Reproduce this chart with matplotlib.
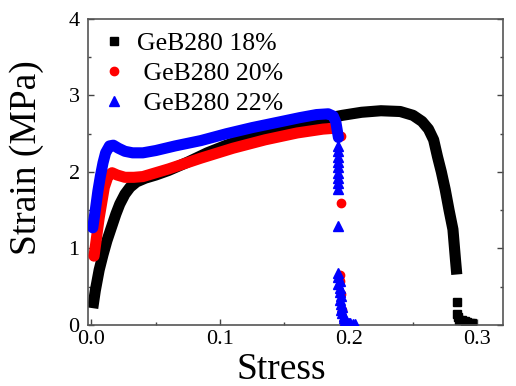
import matplotlib
matplotlib.use("Agg")
import matplotlib.pyplot as plt
from matplotlib.ticker import MultipleLocator

plt.rcParams['font.family'] = ['Liberation Serif', 'DejaVu Serif']

# GeB280 18% (black squares)
x18 = [0.001, 0.003, 0.006, 0.009, 0.012, 0.016, 0.019, 0.022, 0.026, 0.030, 0.035,
       0.042, 0.050, 0.060, 0.075, 0.090, 0.105, 0.120, 0.135, 0.150, 0.165, 0.180,
       0.195, 0.210, 0.225, 0.240, 0.250, 0.257, 0.262, 0.266, 0.269, 0.272, 0.275,
       0.278, 0.281, 0.283, 0.284]
y18 = [0.22, 0.45, 0.72, 0.92, 1.10, 1.30, 1.45, 1.58, 1.71, 1.80, 1.87,
       1.92, 1.96, 2.02, 2.13, 2.25, 2.35, 2.44, 2.52, 2.58, 2.64, 2.69,
       2.74, 2.78, 2.80, 2.79, 2.74, 2.66, 2.56, 2.42, 2.20, 2.00, 1.77,
       1.50, 1.25, 0.85, 0.66]
x18_tail = [0.284, 0.284, 0.285, 0.286, 0.288, 0.290, 0.292, 0.294, 0.296]
y18_tail = [0.30, 0.14, 0.10, 0.07, 0.06, 0.05, 0.04, 0.03, 0.02]

# GeB280 20% (red circles)
x20 = [0.002, 0.004, 0.006, 0.008, 0.010, 0.013, 0.016, 0.020, 0.026, 0.033,
       0.040, 0.060, 0.085, 0.110, 0.135, 0.160, 0.180, 0.188]
y20 = [0.90, 1.15, 1.40, 1.60, 1.80, 1.95, 1.99, 1.96, 1.93, 1.93,
       1.94, 2.04, 2.18, 2.31, 2.42, 2.51, 2.56, 2.57]
x20_tail = [0.194, 0.194, 0.193, 0.193, 0.194, 0.195, 0.196]
y20_tail = [2.47, 1.59, 0.65, 0.58, 0.40, 0.20, 0.05]

# GeB280 22% (blue triangles)
x22 = [0.001, 0.003, 0.005, 0.007, 0.009, 0.011, 0.014, 0.017, 0.021, 0.026,
       0.032, 0.040, 0.050, 0.065, 0.085, 0.105, 0.125, 0.145, 0.162, 0.175,
       0.184, 0.188, 0.190, 0.191, 0.192]
y22 = [1.27, 1.50, 1.75, 1.95, 2.12, 2.25, 2.34, 2.35, 2.31, 2.27,
       2.25, 2.25, 2.28, 2.34, 2.41, 2.50, 2.58, 2.65, 2.71, 2.75,
       2.76, 2.73, 2.65, 2.55, 2.45]
x22_tail = [0.192, 0.192, 0.192, 0.192, 0.192, 0.192, 0.192, 0.192, 0.192, 0.192,
            0.192, 0.192, 0.193, 0.192, 0.193, 0.193, 0.194, 0.193, 0.194, 0.195,
            0.194, 0.195, 0.196, 0.196, 0.197, 0.198, 0.199, 0.200, 0.201, 0.203,
            0.205]
y22_tail = [2.34, 2.27, 2.20, 2.13, 2.06, 1.99, 1.92, 1.85, 1.78, 1.29,
            0.68, 0.63, 0.58, 0.53, 0.48, 0.43, 0.38, 0.33, 0.28, 0.24,
            0.20, 0.16, 0.12, 0.09, 0.06, 0.04, 0.03, 0.02, 0.02, 0.01,
            0.01]

labels = ['GeB280 18%', ' GeB280 20%', ' GeB280 22%']

fig = plt.figure(figsize=(5.16, 3.86), dpi=100)
ax = fig.add_axes([0.1705, 0.158, 0.8045, 0.793])

ax.plot(x18, y18, color='black', lw=8, solid_capstyle='butt', zorder=2)
ax.plot(x18_tail, y18_tail, ls='none', marker='s', ms=5.5, color='black', zorder=2, label=labels[0])
ax.plot(x20, y20, color='red', lw=8, solid_capstyle='round', zorder=3)
ax.plot(x20_tail, y20_tail, ls='none', marker='o', ms=6, color='red', zorder=3, label=labels[1])
ax.plot(x22, y22, color='blue', lw=8, solid_capstyle='round', zorder=4)
ax.plot(x22_tail, y22_tail, ls='none', marker='^', ms=6.5, color='blue', zorder=4, label=labels[2])

ax.set_xlim(-0.0027, 0.320)
ax.set_ylim(0, 4)
ax.xaxis.set_major_locator(MultipleLocator(0.1))
ax.xaxis.set_minor_locator(MultipleLocator(0.05))
ax.yaxis.set_major_locator(MultipleLocator(1))
ax.yaxis.set_minor_locator(MultipleLocator(0.5))
ax.xaxis.set_major_formatter(matplotlib.ticker.FormatStrFormatter('%.1f'))
ax.tick_params(which='both', direction='in', right=True, top=False, labelsize=16, color='#444444')
ax.tick_params(which='major', length=4, width=1)
ax.tick_params(which='minor', length=2.5, width=1)
ax.tick_params(axis='y', pad=6)
for s in ax.spines.values():
    s.set_color('#555555')
    s.set_linewidth(1.2)

ax.set_xlabel('Stress', fontsize=27)
ax.set_ylabel('Strain (MPa)', fontsize=27)
ax.xaxis.set_label_coords(0.465, -0.09)
ax.yaxis.set_label_coords(-0.105, 0.547)

ax.legend(loc='upper left', frameon=False, fontsize=18.5, numpoints=1,
          handlelength=1.0, handletextpad=0.4, labelspacing=0.28,
          borderaxespad=0.1, bbox_to_anchor=(0.0, 1.0))

fig.savefig('out.png', dpi=100)
